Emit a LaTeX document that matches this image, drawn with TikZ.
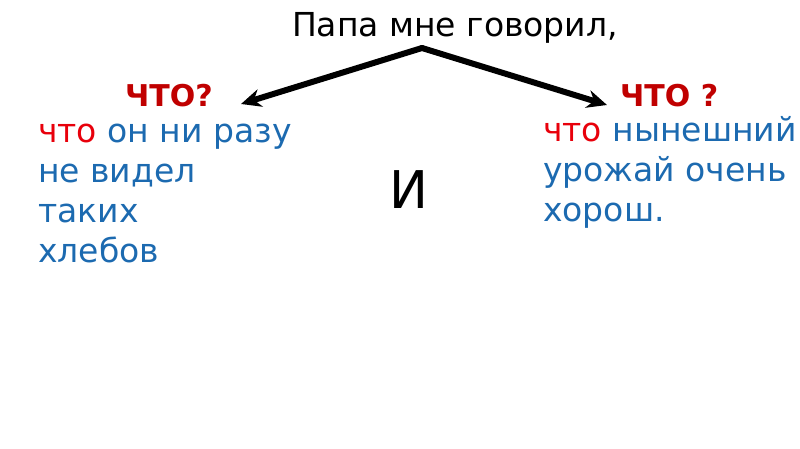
\documentclass[tikz,border=0pt]{standalone}
\usepackage{fontspec}
\setmainfont{DejaVu Sans}
\usepackage{tikz}
\usetikzlibrary{arrows.meta,positioning}

\definecolor{qred}{HTML}{C00000}
\definecolor{wred}{HTML}{E8000B}
\definecolor{tblue}{HTML}{1C6AB0}

\begin{document}
\begin{tikzpicture}[x=1pt,y=-1pt,
    question/.style={anchor=base west,inner sep=0pt,text=qred,font=\bfseries\fontsize{30}{34}\selectfont},
    answer/.style={anchor=base west,inner sep=0pt,align=left,text=tblue,font=\fontsize{33}{40}\selectfont},
    arr/.style={line width=6pt,line cap=round,-{Stealth[length=20pt,width=18pt]}}]
        \useasboundingbox (0,0) rectangle (800,449);
        \node [anchor=base,inner sep=0pt,font=\fontsize{33}{38}\selectfont] (title) at (455,37) {Папа мне говорил,};
        \node [question] (q1) at (125,107) {ЧТО?};
        \node [question] (q2) at (620,107) {ЧТО ?};
        % base of a multi-line node = last line
        \node [answer] (a1) at (38,262) {\textcolor{wred}{что} он ни разу\\не видел\\таких\\хлебов};
        \node [answer] (a2) at (543,222) {\textcolor{wred}{что} нынешний\\урожай очень\\хорош.};
        \node [anchor=base west,inner sep=0pt,font=\fontsize{52}{58}\selectfont] (and) at (389,208) {И};
        \coordinate (apex) at (422,48);
        \draw [arr] (apex) -- ([xshift=28pt,yshift=3pt]q1.base east);
        \draw [arr] (apex) -- ([xshift=-13pt,yshift=2pt]q2.base west);
\end{tikzpicture}
\end{document}
